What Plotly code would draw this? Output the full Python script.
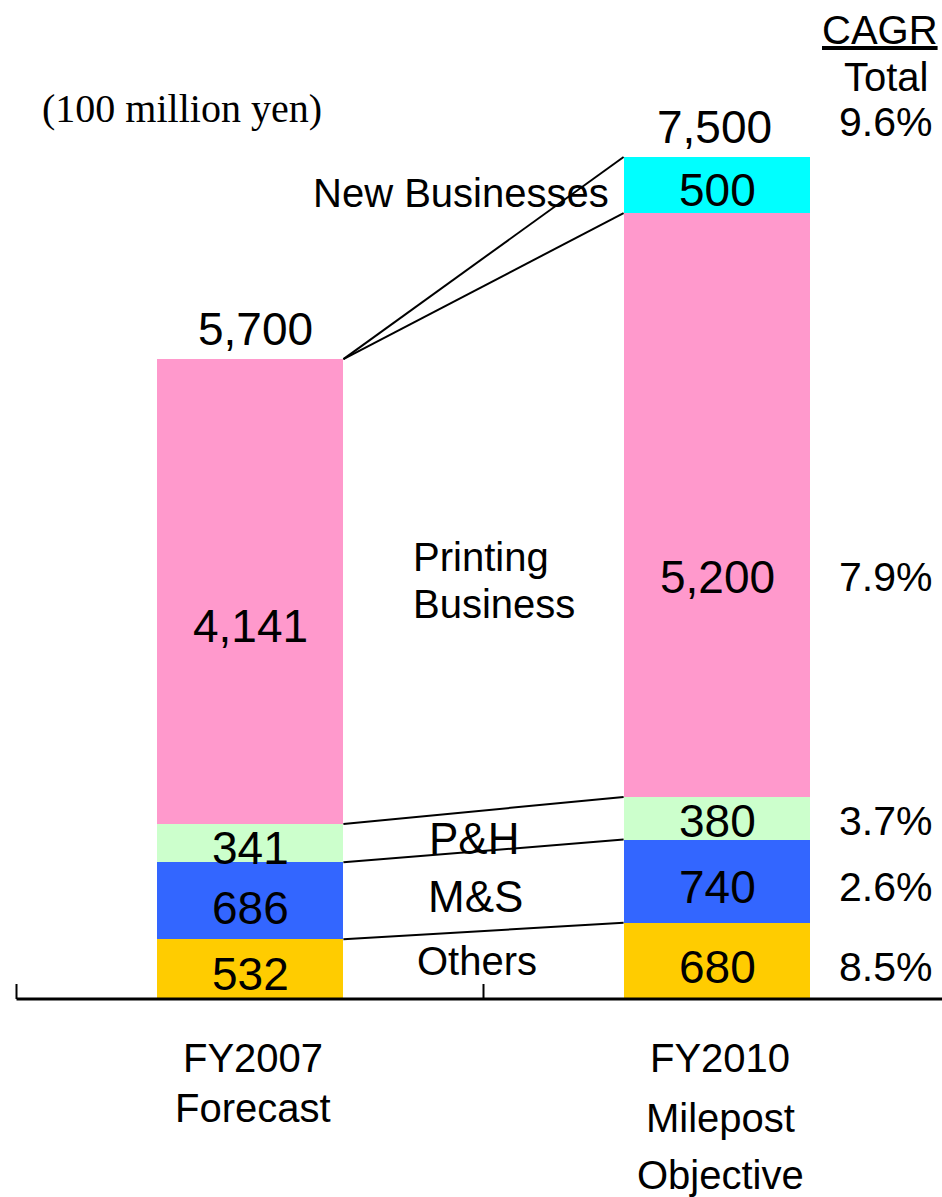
import plotly.graph_objects as go

# ---- data (100 million yen) ----
periods = ["FY2007<br>Forecast", "FY2010<br>Milepost<br>Objective"]
segments = ["Others", "M&S", "P&H", "Printing Business", "New Businesses"]
fy2007 = [532, 686, 341, 4141, None]
fy2010 = [680, 740, 380, 5200, 500]
totals = [5700, 7500]
cagr = [8.5, 2.6, 3.7, 7.9]      # Others, M&S, P&H, Printing
cagr_total = 9.6

colors = ["#FFCC00", "#3366FF", "#CCFFCC", "#FF99CC", "#00FFFF"]

# ---- page geometry ----
W, H = 942, 1197
BASE_PX = 999            # pixel row of the zero line
PX_PER_UNIT = 842 / 7500
X0_PX, X1_PX = 250, 717  # pixel column of each bar centre
PX_PER_X = X1_PX - X0_PX
BAR_W = 0.4

FONT = "Liberation Sans"
NUM_SIZE = 46
LBL_SIZE = 40
PCT_SIZE = 41

def paper_y(px):
    return 1 - px / H

def paper_x(px):
    return px / W

fig = go.Figure()
for name, v07, v10, col in zip(segments, fy2007, fy2010, colors):
    fig.add_trace(go.Bar(
        x=[0, 1], y=[v07, v10], name=name, width=BAR_W,
        marker=dict(color=col, line=dict(width=0)),
        hoverinfo="skip",
    ))

annotations = []
shapes = []

# value labels inside each stacked segment (small downward nudge per label)
nudges = [[-5, -7, -5, -34, 0], [-6, -6, -3, -72, -5]]
for xi, vals in enumerate([fy2007, fy2010]):
    base = 0
    for si, v in enumerate(vals):
        if v is None:
            continue
        annotations.append(dict(
            x=xi, y=base + v / 2, xref="x", yref="y", text=f"{v:,}",
            showarrow=False, yshift=nudges[xi][si],
            xanchor="center", yanchor="middle",
            font=dict(family=FONT, size=NUM_SIZE, color="black"),
        ))
        base += v

# totals above the bars
for xi, t in enumerate(totals):
    annotations.append(dict(
        x=xi, y=t, xref="x", yref="y", text=f"{t:,}", showarrow=False,
        yshift=30, xshift=[5, -3][xi], xanchor="center", yanchor="middle",
        font=dict(family=FONT, size=NUM_SIZE, color="black"),
    ))

# connector lines between the two stacks
cum07, cum10 = [], []
s = 0
for v in fy2007:
    s += v or 0
    cum07.append(s)
s = 0
for v in fy2010:
    s += v or 0
    cum10.append(s)
for ya, yb in zip(cum07, cum10):
    shapes.append(dict(type="line", xref="x", yref="y",
                       x0=BAR_W / 2, x1=1 - BAR_W / 2, y0=ya, y1=yb,
                       line=dict(color="black", width=2)))

# baseline and category boundary ticks
x_left = -0.5
x_right = (W - X0_PX) / PX_PER_X
shapes.append(dict(type="line", xref="x", yref="y", x0=x_left, x1=x_right,
                   y0=0, y1=0, line=dict(color="black", width=3)))
for tx in [-0.5, 0.5]:
    shapes.append(dict(type="line", xref="x", yref="y", x0=tx, x1=tx,
                       y0=0, y1=15 / PX_PER_UNIT,
                       line=dict(color="black", width=2)))

# category labels under the axis
cat_rows = [[1058, 1108], [1058, 1118, 1175]]
for xi, label in enumerate(periods):
    for line, row in zip(label.split("<br>"), cat_rows[xi]):
        annotations.append(dict(
            x=xi, y=paper_y(row), xref="x", yref="paper", text=line,
            showarrow=False, xshift=3, xanchor="center", yanchor="middle",
            font=dict(family=FONT, size=LBL_SIZE, color="black"),
        ))

# free-standing text
def free_text(text, xpx, ypx, size=LBL_SIZE, family=FONT, xanchor="center"):
    annotations.append(dict(
        x=paper_x(xpx), y=paper_y(ypx), xref="paper", yref="paper",
        text=text, showarrow=False, xanchor=xanchor, yanchor="middle",
        font=dict(family=family, size=size, color="black"),
    ))

free_text("New Businesses", 461, 193)
free_text("Printing", 411, 557, xanchor="left")
free_text("Business", 411, 604, xanchor="left")
free_text("P&H", 474, 838, size=44)
free_text("M&S", 475, 896, size=44)
free_text("Others", 477, 961)
free_text("(100 million yen)", 182, 108, size=40, family="Liberation Serif")

# CAGR column
free_text("<u>CAGR</u>", 880, 30)
free_text("Total", 886, 77)
free_text(f"{cagr_total}%", 885, 122, size=PCT_SIZE)
# percentages sit on the same rows as the FY2010 segment values
base = 0
for si, pct in enumerate(cagr):
    v = fy2010[si]
    annotations.append(dict(
        x=paper_x(885), y=base + v / 2, xref="paper", yref="y", text=f"{pct}%",
        showarrow=False, yshift=nudges[1][si],
        xanchor="center", yanchor="middle",
        font=dict(family=FONT, size=PCT_SIZE, color="black"),
    ))
    base += v

fig.update_layout(
    width=W, height=H,
    margin=dict(l=0, r=0, t=0, b=0),
    barmode="stack",
    showlegend=False,
    plot_bgcolor="white", paper_bgcolor="white",
    xaxis=dict(visible=False, range=[-X0_PX / PX_PER_X, x_right], fixedrange=True),
    yaxis=dict(visible=False,
               range=[-(H - BASE_PX) / PX_PER_UNIT, BASE_PX / PX_PER_UNIT],
               fixedrange=True),
    annotations=annotations,
    shapes=shapes,
)

fig.write_html("out.html")
